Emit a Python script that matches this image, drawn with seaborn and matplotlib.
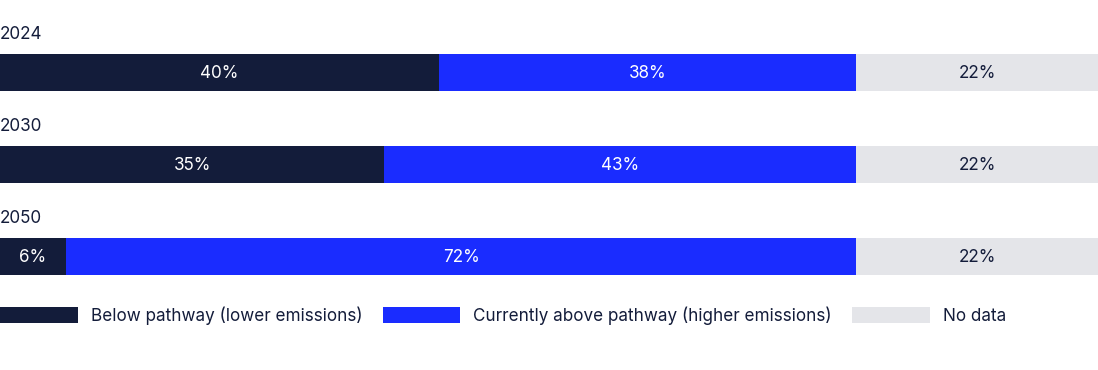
import matplotlib
matplotlib.use("Agg")
import matplotlib.pyplot as plt
import seaborn as sns
import pandas as pd
import numpy as np

years = ["2024", "2030", "2050"]
below = [40, 35, 6]
above = [38, 43, 72]
nodata = [22, 22, 22]
series_names = ["Below pathway (lower emissions)",
                "Currently above pathway (higher emissions)",
                "No data"]
colors = ["#131c3a", "#1a2cff", "#e4e5e9"]
text_colors = ["white", "white", "#131c3a"]

sns.set_theme(style="white")
plt.rcParams["font.family"] = ["Inter", "DejaVu Sans"]

fig = plt.figure(figsize=(10.98, 3.70), dpi=100)
ax = fig.add_axes([0, 0, 1, 1])

vals = np.array([below, above, nodata], dtype=float)
cum = np.cumsum(vals, axis=0)

# draw back to front so stacked look is produced
for i in reversed(range(3)):
    df = pd.DataFrame({"year": years, "value": cum[i]})
    sns.barplot(data=df, x="value", y="year", orient="h", color=colors[i],
                width=0.40, saturation=1, ax=ax, label=series_names[i],
                linewidth=0)

ax.set_xlim(0, 100)
ax.set_ylim((370 - 72.5) / 92, -72.5 / 92)
ax.axis("off")

for j, y in enumerate(years):
    ax.text(0, j - 0.415, y, ha="left", va="center", fontsize=12.3, color="#131c3a")
    for i in range(3):
        start = cum[i][j] - vals[i][j]
        ax.text(start + vals[i][j] / 2, j + 0.015, f"{int(vals[i][j])}%", ha="center",
                va="center", fontsize=12.3, color=text_colors[i])

handles, labels = ax.get_legend_handles_labels()
order = [labels.index(n) for n in series_names]
leg = ax.legend([handles[k] for k in order], [labels[k] for k in order],
                loc="center left", bbox_to_anchor=(0, 1 - 315.5 / 370), ncol=3,
                frameon=False, fontsize=12.3, handlelength=4.55, handleheight=1.0,
                handletextpad=0.75, columnspacing=1.2, borderpad=0, borderaxespad=0,
                labelcolor="#131c3a")

fig.savefig("out.png", dpi=100)
